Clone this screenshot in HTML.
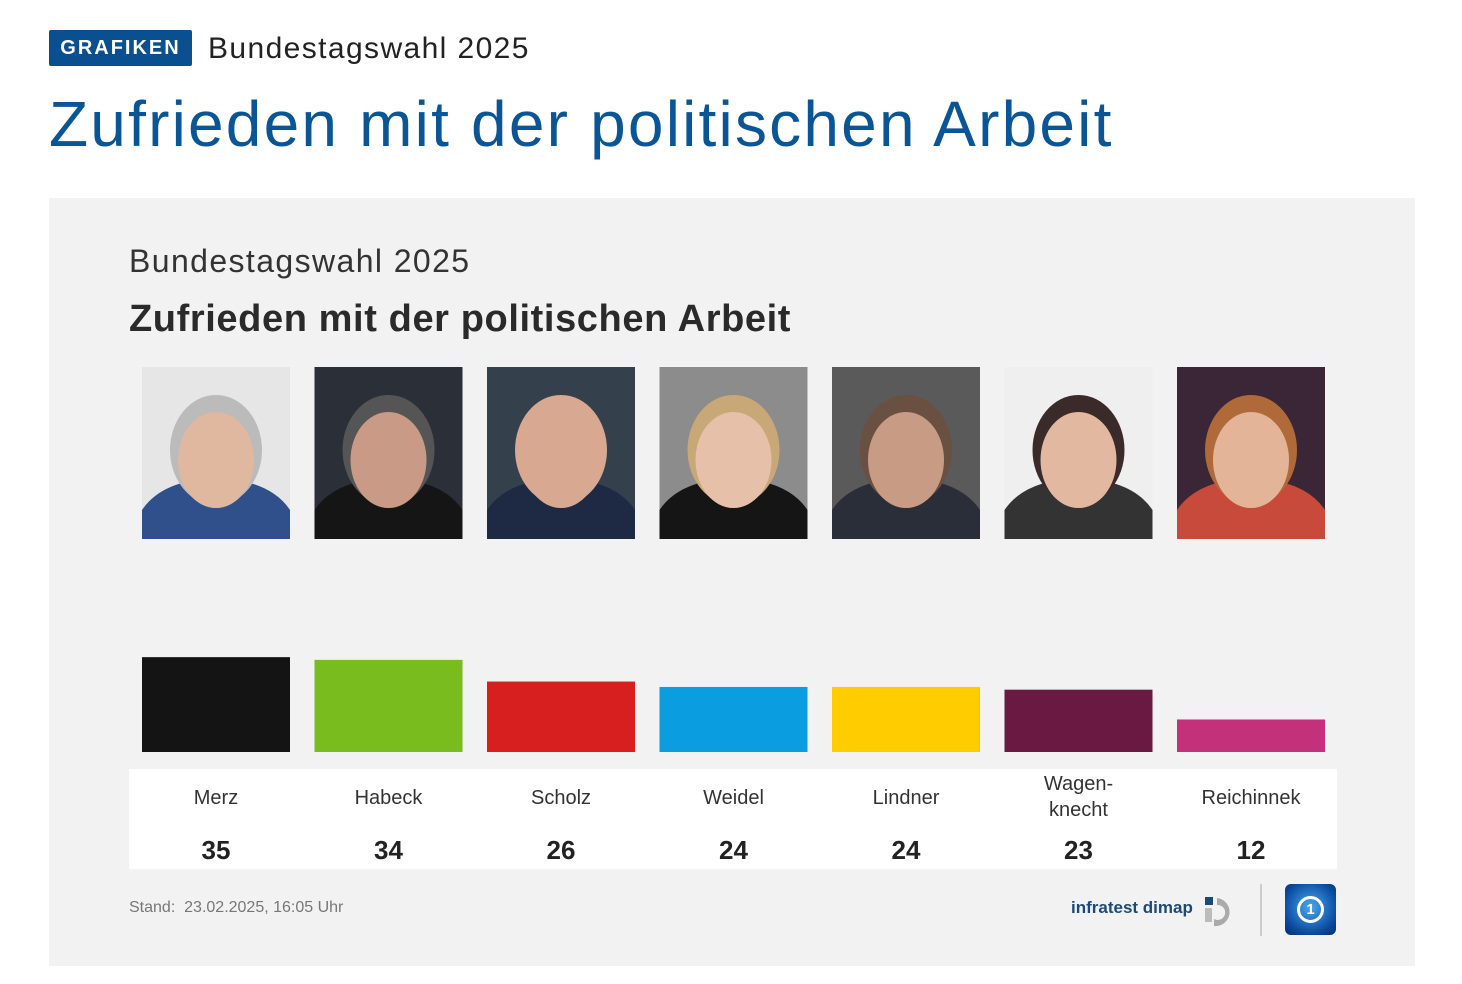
<!DOCTYPE html>
<html><head><meta charset="utf-8">
<style>
body{margin:0;width:1462px;height:984px;background:#fff;font-family:"Liberation Sans","DejaVu Sans",sans-serif;position:relative;overflow:hidden}
.abs{position:absolute}
#badge{left:49px;top:30px;width:143px;height:36px;background:#0a4f8f;color:#fff;font-weight:bold;font-size:20px;letter-spacing:2px;line-height:36px;text-align:center;border-radius:2px}
#kicker{left:208px;top:30px;font-size:30px;color:#222;line-height:38px;letter-spacing:1.4px}
#title{left:49px;top:84px;font-size:64px;color:#0a5596;line-height:80px;letter-spacing:2.2px}
#panel{left:49px;top:198px;width:1366px;height:768px;background:#f2f2f2}
#sub{left:129px;top:240px;font-size:32px;color:#333;line-height:42px;letter-spacing:1.4px}
#ctitle{left:129px;top:296px;font-size:38px;font-weight:bold;color:#2a2a2a;line-height:46px;letter-spacing:0.6px}
#labels{left:129px;top:769px;width:1208px;height:100px;background:#fff}
.nm{position:absolute;width:172px;text-align:center;font-size:20px;color:#333;line-height:26px}
.val{position:absolute;width:172px;text-align:center;font-size:26px;font-weight:bold;color:#222;top:66px}
#stand{left:129px;top:899px;font-size:16px;color:#777}
#infra{left:1071px;top:898px;font-size:17px;color:#1b4a7a;font-weight:bold}
#sep{left:1260px;top:884px;width:2px;height:52px;background:#ccc}
#ard{left:1285px;top:884px;width:51px;height:51px;border-radius:6px;background:radial-gradient(circle at 50% 45%,#4aa8f0,#0a4aa0 70%,#062a66)}
</style></head><body>
<div id="badge" class="abs">GRAFIKEN</div>
<div id="kicker" class="abs">Bundestagswahl 2025</div>
<div id="title" class="abs">Zufrieden mit der politischen Arbeit</div>
<div id="panel" class="abs"></div>
<div id="sub" class="abs">Bundestagswahl 2025</div>
<div id="ctitle" class="abs">Zufrieden mit der politischen Arbeit</div>
<svg id="chart" class="abs" style="left:0;top:0" width="1462" height="984"></svg>
<div id="labels" class="abs"></div>
<div id="stand" class="abs">Stand:&nbsp; 23.02.2025, 16:05 Uhr</div>
<div id="infra" class="abs">infratest dimap</div>
<svg class="abs" style="left:1204px;top:896px" width="34" height="32"><rect x="1" y="1" width="8" height="8" fill="#1b4a7a"/><path d="M13 2 A14 14 0 1 1 10 30 L10 23 A7.5 7.5 0 1 0 13 9 Z" fill="#aaa"/><rect x="1" y="12" width="7" height="14" fill="#bbb"/></svg>
<div id="sep" class="abs"></div>
<div id="ard" class="abs"><div style="position:absolute;left:12px;top:12px;width:21px;height:21px;border:3px solid #fff;border-radius:50%;color:#fff;font-weight:bold;font-size:15px;text-align:center;line-height:21px">1</div></div>
<script>
const names=["Merz","Habeck","Scholz","Weidel","Lindner","Wagen-<br>knecht","Reichinnek"];
const values=[35,34,26,24,24,23,12];
const colors=["#141414","#78bc1e","#d71f1f","#0a9ee0","#ffcc00","#6a1a42","#c3317a"];
const photoBg=["#e6e6e6","#2a2f38","#34404c","#8c8c8c","#5a5a5a","#efefef","#3a2636"];
const photoSuit=["#30508c","#151515","#1e2a44","#151515","#2a2e38","#333","#c84a3a"];
const photoSkin=["#e0b8a0","#c99a85","#d8a890","#e6c0a8","#c89c84","#e2b8a0","#e4b498"];
const photoHair=["#bbb","#555","#d8a890","#c9a878","#6a5040","#3a2a2a","#b06a3a"];
const NS="http://www.w3.org/2000/svg";
const svg=document.getElementById('chart');
const x0=142,step=172.5,bw=148,base=752,scale=2.71;
const xs=i=>x0+i*step;
const ys=v=>base-v*scale;
function mk(t,a){const e=document.createElementNS(NS,t);for(const k in a)e.setAttribute(k,a[k]);svg.appendChild(e);return e;}
values.forEach((v,i)=>{
  const x=xs(i);
  const bg=mk('rect',{x:x,y:367,width:bw,height:172,fill:photoBg[i]});
  
  
  mk('path',{d:`M${x} 539 L${x} 510 Q${x+20} 480 ${x+74} 478 Q${x+128} 480 ${x+bw} 510 L${x+bw} 539 Z`,fill:photoSuit[i]});
  mk('ellipse',{cx:x+74,cy:450,rx:46,ry:55,fill:photoHair[i]});
  mk('ellipse',{cx:x+74,cy:460,rx:38,ry:48,fill:photoSkin[i]});
  const b=mk('rect',{x:x,y:ys(v),width:bw,height:v*scale,fill:colors[i]});
  
  
});
const lab=document.getElementById('labels');
values.forEach((v,i)=>{
  const left=xs(i)-129-12;
  const n=document.createElement('div');
  n.className='nm';
  
  
  n.style.left=left+'px';
  const two=names[i].includes('<br>');
  n.style.top=(two?2:16)+'px';
  n.innerHTML=names[i];
  lab.appendChild(n);
  const d=document.createElement('div');
  d.className='val';
  
  
  d.style.left=left+'px';
  d.textContent=v;
  lab.appendChild(d);
});
</script>
</body></html>
